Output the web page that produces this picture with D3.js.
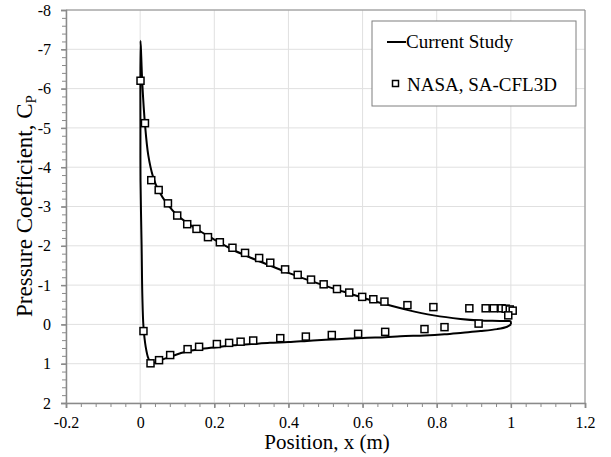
<!DOCTYPE html>
<html>
<head>
<meta charset="utf-8">
<script src="https://cdn.jsdelivr.net/npm/d3@7"></script>
<style>
  body { margin: 0; background: #fff; }
  svg { display: block; font-family: "Liberation Serif", "Times New Roman", serif; }
  .tick text { font-family: "Liberation Serif", serif; font-size: 16px; fill: #000; }
</style>
</head>
<body>
<svg id="chart" width="611" height="457"></svg>
<script>
// Current study, upper surface from trailing edge to leading edge peak
const studyUpper = [
  [1.000, 0.00], [0.999, -0.08], [0.990, -0.085], [0.950, -0.09], [0.918, -0.10],
  [0.864, -0.14], [0.792, -0.23], [0.720, -0.37], [0.659, -0.52], [0.600, -0.68],
  [0.550, -0.83], [0.500, -0.98], [0.450, -1.14], [0.400, -1.31], [0.350, -1.50],
  [0.300, -1.69], [0.250, -1.90], [0.200, -2.16], [0.150, -2.44], [0.100, -2.78],
  [0.075, -3.04], [0.050, -3.40], [0.035, -3.75], [0.022, -4.30], [0.013, -5.10],
  [0.006, -6.10], [0.003, -6.80], [0.001, -7.22]
];
// Current study, leading edge back down and along the lower surface to the trailing edge
const studyLower = [
  [0.0008, -5.0], [0.001, -3.67], [0.004, -1.98], [0.006, -0.70], [0.009, 0.06],
  [0.015, 0.57], [0.022, 0.86], [0.029, 0.98], [0.040, 0.97], [0.050, 0.93],
  [0.082, 0.82], [0.125, 0.69], [0.161, 0.63], [0.206, 0.58], [0.250, 0.53],
  [0.300, 0.50], [0.350, 0.47], [0.400, 0.45], [0.450, 0.42], [0.500, 0.39],
  [0.567, 0.36], [0.612, 0.34], [0.661, 0.33], [0.702, 0.30], [0.767, 0.28],
  [0.821, 0.25], [0.870, 0.21], [0.918, 0.17], [0.963, 0.12], [0.990, 0.06], [1.000, 0.00]
];
const nasaUpper = [
  [0.001, -6.20], [0.013, -5.12], [0.030, -3.67], [0.050, -3.42], [0.075, -3.08],
  [0.100, -2.77], [0.127, -2.55], [0.152, -2.43], [0.183, -2.22], [0.215, -2.09],
  [0.249, -1.95], [0.283, -1.82], [0.321, -1.69], [0.351, -1.57], [0.391, -1.40],
  [0.425, -1.26], [0.461, -1.14], [0.495, -1.02], [0.531, -0.90], [0.564, -0.81],
  [0.599, -0.70], [0.629, -0.64], [0.659, -0.58], [0.721, -0.49], [0.791, -0.44],
  [0.888, -0.41], [0.932, -0.41], [0.954, -0.41], [0.975, -0.41], [0.986, -0.40],
  [0.997, -0.38], [1.005, -0.35]
];
const nasaLower = [
  [0.993, -0.23], [0.913, -0.02], [0.821, 0.07], [0.767, 0.12], [0.661, 0.19],
  [0.588, 0.24], [0.517, 0.27], [0.447, 0.31], [0.378, 0.35], [0.305, 0.41],
  [0.271, 0.44], [0.240, 0.47], [0.207, 0.50], [0.159, 0.57], [0.128, 0.63],
  [0.081, 0.78], [0.051, 0.91], [0.028, 0.99], [0.009, 0.17]
];
const xTicks = [-0.2, 0, 0.2, 0.4, 0.6, 0.8, 1, 1.2];
const xTickLabels = ['-0.2', '0', '0.2', '0.4', '0.6', '0.8', '1', '1.2'];
const yTicks = [-8, -7, -6, -5, -4, -3, -2, -1, 0, 1, 2];
const yTickLabels = ['-8', '-7', '-6', '-5', '-4', '-3', '-2', '-1', '0', '1', '2'];
const legendLabels = ['Current Study', 'NASA, SA-CFL3D'];

const svg = d3.select('#chart');
const plotLeft = 66, plotRight = 585, plotTop = 10, plotBottom = 403;
const axisColor = '#8a8a8a';
const gridColor = '#e0e0e0';

const x = d3.scaleLinear().domain([-0.2, 1.2]).range([plotLeft, plotRight]);
const y = d3.scaleLinear().domain([-8, 2]).range([plotTop, plotBottom]);

// grid
const grid = svg.append('g');
grid.selectAll('.gx').data(xTicks).join('line')
  .attr('class', 'gx')
  .attr('x1', d => x(d)).attr('x2', d => x(d))
  .attr('y1', plotTop).attr('y2', plotBottom)
  .attr('stroke', gridColor).attr('stroke-width', 1);
grid.selectAll('.gy').data(yTicks).join('line')
  .attr('class', 'gy')
  .attr('x1', plotLeft).attr('x2', plotRight)
  .attr('y1', d => y(d)).attr('y2', d => y(d))
  .attr('stroke', gridColor).attr('stroke-width', 1);

// frame (top and right)
svg.append('path')
  .attr('d', `M${plotLeft},${plotTop}H${plotRight}V${plotBottom}`)
  .attr('fill', 'none').attr('stroke', axisColor).attr('stroke-width', 1);

// minor ticks
const xMinor = d3.range(-0.2, 1.2001, 0.04);
const yMinor = d3.range(-8, 2.001, 0.2);
const xAxisMinor = d3.axisBottom(x).tickValues(xMinor).tickSize(4).tickFormat('');
const yAxisMinor = d3.axisLeft(y).tickValues(yMinor).tickSize(4).tickFormat('');
svg.append('g').attr('transform', `translate(0,${plotBottom})`).call(xAxisMinor)
  .call(g => g.selectAll('line,path').attr('stroke', axisColor));
svg.append('g').attr('transform', `translate(${plotLeft},0)`).call(yAxisMinor)
  .call(g => g.selectAll('line,path').attr('stroke', axisColor));

// major axes
const xAxis = d3.axisBottom(x).tickValues(xTicks).tickSize(5).tickPadding(9)
  .tickFormat((d, i) => xTickLabels[i]);
const yAxis = d3.axisLeft(y).tickValues(yTicks).tickSize(5).tickPadding(10)
  .tickFormat((d, i) => yTickLabels[i]);
svg.append('g').attr('transform', `translate(0,${plotBottom})`).call(xAxis)
  .attr('font-family', null)
  .call(g => g.selectAll('line,path').attr('stroke', axisColor).attr('stroke-width', 1.5));
svg.append('g').attr('transform', `translate(${plotLeft},0)`).call(yAxis)
  .attr('font-family', null)
  .call(g => g.selectAll('line,path').attr('stroke', axisColor).attr('stroke-width', 1.5));

// current study curve
const line = d3.line()
  .x(d => x(d[0]))
  .y(d => y(d[1]))
  .curve(d3.curveCatmullRom.alpha(0.5));
svg.append('path')
  .datum(studyUpper.concat(studyLower))
  .attr('d', line)
  .attr('fill', 'none')
  .attr('stroke', '#000')
  .attr('stroke-width', 2);

// NASA markers
const sq = 7;
svg.append('g').selectAll('rect')
  .data(nasaUpper.concat(nasaLower))
  .join('rect')
  .attr('x', d => x(d[0]) - sq / 2)
  .attr('y', d => y(d[1]) - sq / 2)
  .attr('width', sq)
  .attr('height', sq)
  .attr('fill', '#fff')
  .attr('stroke', '#000')
  .attr('stroke-width', 1.5);

// legend
const legend = svg.append('g');
legend.append('rect')
  .attr('x', 372).attr('y', 21).attr('width', 204).attr('height', 85)
  .attr('fill', '#fff').attr('stroke', '#7f7f7f').attr('stroke-width', 1);
legend.append('line')
  .attr('x1', 387).attr('x2', 406).attr('y1', 42).attr('y2', 42)
  .attr('stroke', '#000').attr('stroke-width', 2);
legend.append('text')
  .attr('x', 406).attr('y', 48).attr('font-size', 19)
  .text(legendLabels[0]);
legend.append('rect')
  .attr('x', 392.5).attr('y', 80.5).attr('width', 6).attr('height', 6)
  .attr('fill', '#fff').attr('stroke', '#000').attr('stroke-width', 1.5);
legend.append('text')
  .attr('x', 407).attr('y', 91).attr('font-size', 19)
  .text(legendLabels[1]);

// axis titles
svg.append('text')
  .attr('x', 327).attr('y', 449)
  .attr('text-anchor', 'middle')
  .attr('font-size', 21)
  .text('Position, x (m)');
const yTitle = svg.append('text')
  .attr('transform', 'translate(32,206) rotate(-90)')
  .attr('text-anchor', 'middle')
  .attr('font-size', 23);
yTitle.append('tspan').text('Pressure Coefficient, C');
yTitle.append('tspan').attr('font-size', 15).attr('dy', 4).text('P');
</script>
</body>
</html>
